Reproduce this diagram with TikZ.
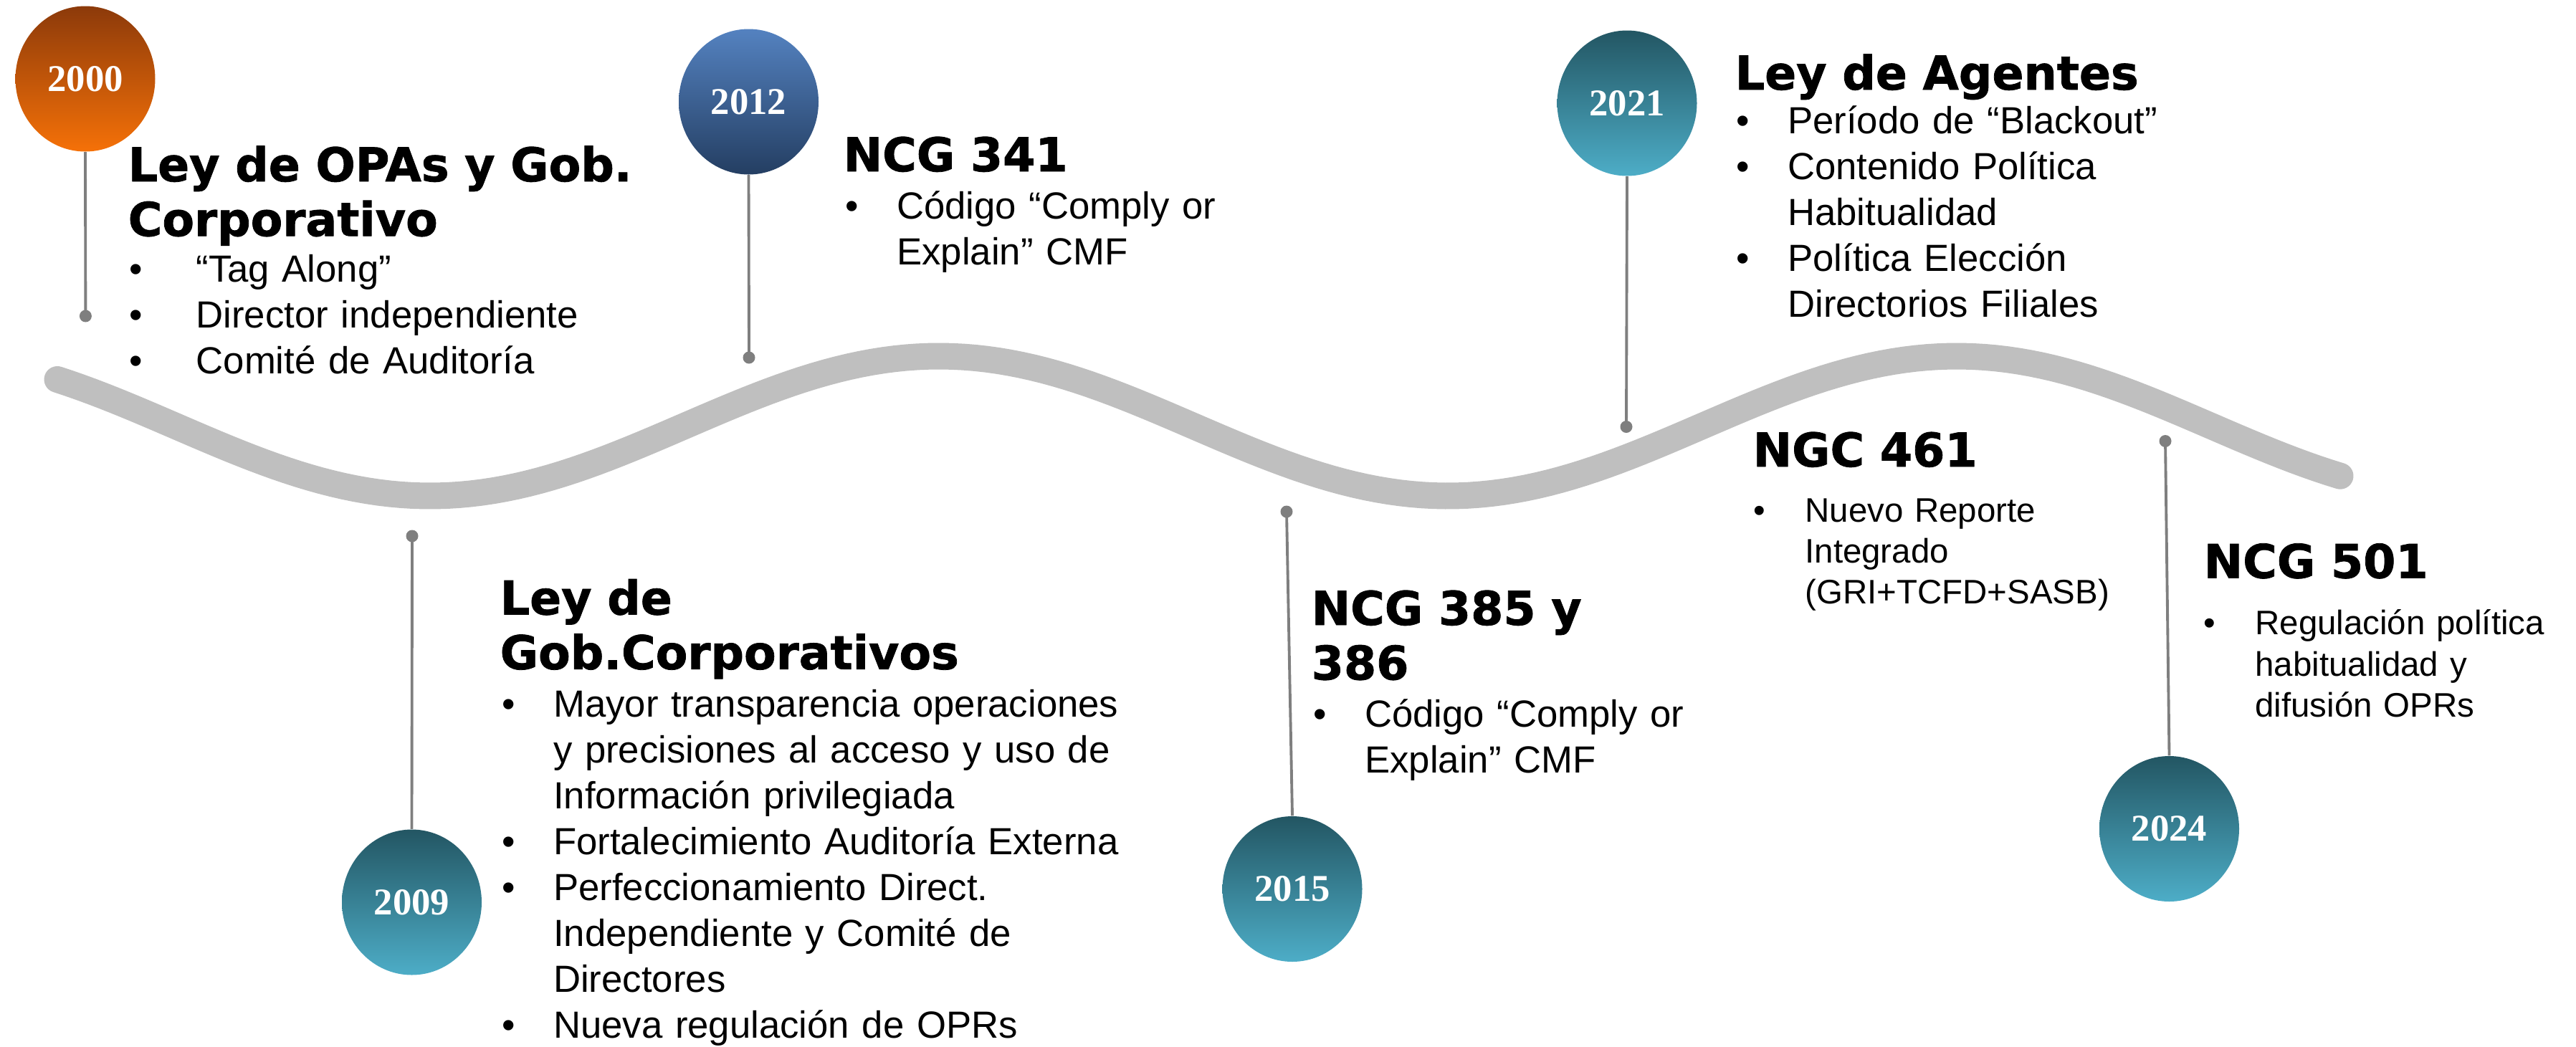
\documentclass[tikz,border=0pt]{standalone}
\usepackage{fontspec}
\setmainfont{Liberation Sans}
\newfontfamily\headfont{DejaVu Sans}[BoldFeatures={FakeBold=1.2}]
\newfontfamily\yearfont{Liberation Serif}
\usepackage{tikz}
\usetikzlibrary{shapes.geometric}

\definecolor{wavegray}{RGB}{191,191,191}
\definecolor{stemgray}{RGB}{127,127,127}
\definecolor{orgtop}{RGB}{140,58,10}
\definecolor{orgbot}{RGB}{245,113,8}
\definecolor{bluetop}{RGB}{84,130,192}
\definecolor{bluebot}{RGB}{36,62,98}
\definecolor{tealtop}{RGB}{35,86,99}
\definecolor{tealbot}{RGB}{77,173,199}

\newcommand{\bul}[1][0.72cm]{\makebox[#1][l]{\textbullet}}
\newcommand{\nxt}[1][0.72cm]{\hspace*{#1}}

\tikzset{
	year/.style={ellipse, minimum width=1.95cm, minimum height=2.03cm, inner sep=0pt,
		text=white, font=\yearfont\bfseries\fontsize{15}{18}\selectfont},
	orange year/.style={year, top color=orgtop, bottom color=orgbot},
	blue year/.style={year, top color=bluetop, bottom color=bluebot},
	teal year/.style={year, top color=tealtop, bottom color=tealbot},
	heading/.style={anchor=base west, inner sep=0pt, text width=9cm, align=left,
		font=\headfont\bfseries\fontsize{18.5}{21.7}\selectfont},
	items/.style={anchor=base west, inner sep=0pt, text width=9cm, align=left,
		font=\fontsize{15}{18.2}\selectfont},
	small items/.style={items, font=\fontsize{13.5}{16.3}\selectfont},
	stem/.style={draw=stemgray, line width=1.1pt},
	waveline/.style={draw=wavegray, line width=0.37cm, line cap=round}
}

\begin{document}
\begin{tikzpicture}
	\useasboundingbox (0,0) rectangle (35.94,-14.60);
	%timeline
	\draw[waveline] plot[domain=0.8:32.65, samples=200] (\x, {-5.945-0.975*cos(360*(\x-6)/14.2)});
	%years
	\node[orange year] (y2000) at (1.19,-1.10) {2000};
	\node[blue year] (y2012) at (10.445,-1.42) {2012};
	\node[teal year] (y2021) at (22.70,-1.44) {2021};
	\node[teal year] (y2009) at (5.745,-12.59) {2009};
	\node[teal year] (y2015) at (18.03,-12.405) {2015};
	\node[teal year] (y2024) at (30.265,-11.565) {2024};
	%pins on the wave
	\coordinate (d2000) at (1.194,-4.41);
	\coordinate (d2012) at (10.45,-4.99);
	\coordinate (d2021) at (22.69,-5.955);
	\coordinate (d2009) at (5.75,-7.48);
	\coordinate (d2015) at (17.95,-7.14);
	\coordinate (d2024) at (30.21,-6.155);
	\draw[stem] (y2000.south) -- (d2000);
	\draw[stem] (y2012.south) -- (d2012);
	\draw[stem] (y2021.south) -- (d2021);
	\draw[stem] (y2009.north) -- (d2009);
	\draw[stem] (y2015.north) -- (d2015);
	\draw[stem] (y2024.north) -- (d2024);
	\foreach \d in {d2000,d2012,d2021,d2009,d2015,d2024}
		\fill[stemgray] (\d) circle (0.085);
	%2000
	\node[heading] (h2000) at (1.78,-2.53) {Ley de OPAs y Gob.\\Corporativo};
	\node[items] (b2000) at (1.80,-3.935) {\bul[0.93cm]“Tag Along”\\\bul[0.93cm]Director independiente\\\bul[0.93cm]Comité de Auditoría};
	%2012
	\node[heading] (h2012) at (11.76,-2.39) {NCG 341};
	\node[items] (b2012) at (11.785,-3.055) {\bul Código “Comply or\\\nxt Explain” CMF};
	%2021
	\node[heading] (h2021) at (24.20,-1.25) {Ley de Agentes};
	\node[items] (b2021) at (24.215,-1.866) {\bul Período de “Blackout”\\\bul Contenido Política\\\nxt Habitualidad\\\bul Política Elección\\\nxt Directorios Filiales};
	%2009
	\node[heading] (h2009) at (6.97,-8.575) {Ley de\\Gob.Corporativos};
	\node[items] (b2009) at (6.995,-10.005) {\bul Mayor transparencia operaciones\\\nxt y precisiones al acceso y uso de\\\nxt Información privilegiada\\\bul Fortalecimiento Auditoría Externa\\\bul Perfeccionamiento Direct.\\\nxt Independiente y Comité de\\\nxt Directores\\\bul Nueva regulación de OPRs};
	%2015
	\node[heading] (h2015) at (18.29,-8.72) {NCG 385 y\\386};
	\node[items] (b2015) at (18.315,-10.148) {\bul Código “Comply or\\\nxt Explain” CMF};
	%2024
	\node[heading] (h461) at (24.45,-6.51) {NGC 461};
	\node[small items] (b461) at (24.457,-7.28) {\bul Nuevo Reporte\\\nxt Integrado\\\nxt (GRI+TCFD+SASB)};
	\node[heading] (h501) at (30.74,-8.065) {NCG 501};
	\node[small items] (b501) at (30.737,-8.857) {\bul Regulación política\\\nxt habitualidad y\\\nxt difusión OPRs};
\end{tikzpicture}
\end{document}
